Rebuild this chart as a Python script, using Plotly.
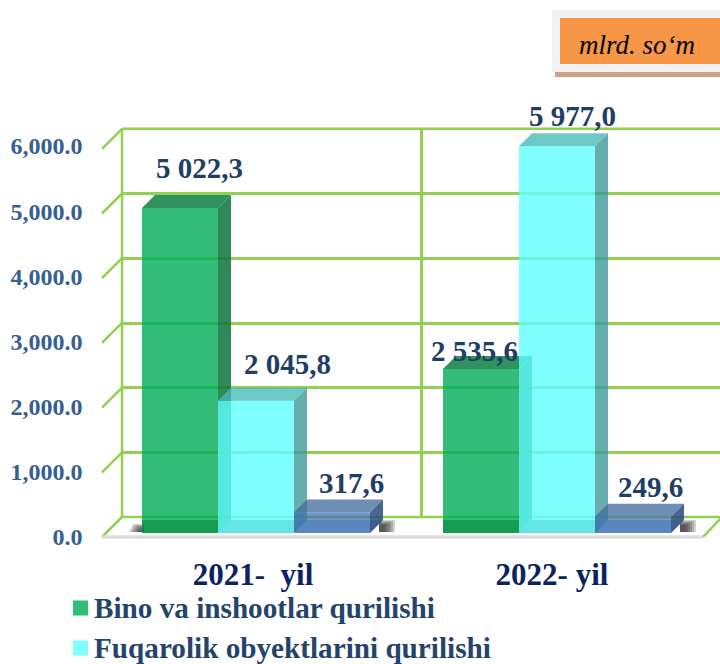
import plotly.graph_objects as go

# ---- data ----
years = ["2021-  yil", "2022- yil"]
bino = [5022.3, 2535.6]
fuqarolik = [2045.8, 5977.0]
boshqa = [317.6, 249.6]
bino_labels = ["5 022,3", "2 535,6"]
fuqarolik_labels = ["2 045,8", "5 977,0"]
boshqa_labels = ["317,6", "249,6"]
y_ticks = [0, 1000, 2000, 3000, 4000, 5000, 6000]
unit_text = "mlrd. so\u2018m"

# ---- geometry (canvas pixels) ----
W, H = 720, 664
BASE_PX = 533          # front bottom of bars
PX_PER_UNIT = 0.0647
BACK_PX = 517          # back wall zero line
FRONT_PX = 537         # front floor zero line
GROUP_LEFT = [142, 443]
BAR_W = 76
DEPTH = 13
FONT = "Liberation Serif"
GRID = "#92d050"


def v(p):
    return (BASE_PX - p) / PX_PER_UNIT


d_v = DEPTH / PX_PER_UNIT
series = [
    dict(name="Bino va inshootlar qurilishi", vals=bino, labels=bino_labels,
         front="rgba(0,172,86,0.80)", top="rgba(25,135,75,0.90)", side="rgba(20,120,65,0.88)",
         bottom="rgba(0,130,50,0.55)", legend="#30bd74"),
    dict(name="Fuqarolik obyektlarini qurilishi", vals=fuqarolik, labels=fuqarolik_labels,
         front="rgba(96,255,255,0.80)", top="rgba(70,185,185,0.78)", side="rgba(60,150,150,0.78)",
         bottom="rgba(60,190,190,0.40)", legend="#80ffff"),
    dict(name="Boshqa", vals=boshqa, labels=boshqa_labels,
         front="rgba(60,110,175,0.72)", top="rgba(70,110,160,0.78)", side="rgba(40,75,125,0.85)",
         bottom="rgba(40,100,170,0.30)", legend="#4f81bd"),
]

fig = go.Figure()

# back wall grid subplot (xy)
fig.add_trace(go.Scatter(x=[122], y=[0], mode="markers", marker=dict(opacity=0), xaxis="x", yaxis="y",
                         showlegend=False, hoverinfo="skip"))

# wall frame, left tick diagonals, right diagonal
top_t, low_t = y_ticks[-1] + v(BACK_PX), y_ticks[0] + v(BACK_PX)
frame_x = [122, 122, None, 122, 722, None, 122, 722, None]
frame_y = [low_t, top_t, None, top_t, top_t, None, low_t, low_t, None]
for t in y_ticks:
    frame_x += [122, 102, None]
    frame_y += [t + v(BACK_PX), t + v(FRONT_PX), None]
frame_x += [722, 703]
frame_y += [v(BACK_PX), v(FRONT_PX)]
fig.add_trace(go.Scatter(x=frame_x, y=frame_y, mode="lines", line=dict(color=GRID, width=2.5),
                         xaxis="x2", yaxis="y2", showlegend=False, hoverinfo="skip", zorder=0))
fig.add_trace(go.Scatter(x=[102, 703], y=[v(FRONT_PX), v(FRONT_PX)], mode="lines",
                         line=dict(color="#dcdcdc", width=3.5),
                         xaxis="x2", yaxis="y2", showlegend=False, hoverinfo="skip", zorder=1))

# soft shadows on the floor
for i in range(6):
    a = 0.20
    inset = i * 2
    lx = GROUP_LEFT[0]
    fig.add_trace(go.Scatter(
        x=[lx - 13 + inset, lx + 2, lx + 2, lx - 9 + inset],
        y=[v(BASE_PX - 1), v(BASE_PX - 1), v(BASE_PX - 9 + i), v(BASE_PX - 9 + i)],
        mode="lines", fill="toself", fillcolor=f"rgba(30,30,30,{a})", line=dict(width=0),
        xaxis="x2", yaxis="y2", showlegend=False, hoverinfo="skip", zorder=1))
    for g in GROUP_LEFT:
        rx = g + 3 * BAR_W + DEPTH
        fig.add_trace(go.Scatter(
            x=[rx - 4, rx + 12 - inset, rx + 12 - inset, rx - 4],
            y=[v(BASE_PX - 1), v(BASE_PX - 1), v(BASE_PX - 13 + i), v(BASE_PX - 13 + i)],
            mode="lines", fill="toself", fillcolor=f"rgba(30,30,30,{a})", line=dict(width=0),
            xaxis="x2", yaxis="y2", showlegend=False, hoverinfo="skip", zorder=1))

# 3-D bars
z = 2
for s_i, s in enumerate(series):
    lefts = [g + s_i * BAR_W for g in GROUP_LEFT]
    fig.add_trace(go.Bar(x=[l + BAR_W / 2 for l in lefts], y=s["vals"], width=BAR_W,
                         marker=dict(color=s["front"], line=dict(width=0)), name=s["name"],
                         xaxis="x2", yaxis="y2", showlegend=False, zorder=z))
    z += 1
    for l, val in zip(lefts, s["vals"]):
        r = l + BAR_W
        if s_i == 0:
            bottom_x = [l, l, r, r]
        else:
            bottom_x = [l, l + DEPTH, r + DEPTH, r]
        faces = [
            (bottom_x, [0, d_v, d_v, 0], s["bottom"]),
            ([l, l + DEPTH, r + DEPTH, r], [val, val + d_v, val + d_v, val], s["top"]),
            ([r, r + DEPTH, r + DEPTH, r], [val, val + d_v, d_v, 0], s["side"]),
        ]
        for fx, fy, col in faces:
            fig.add_trace(go.Scatter(x=fx + fx[:1], y=fy + fy[:1], mode="lines", fill="toself",
                                     fillcolor=col, line=dict(width=0), xaxis="x2", yaxis="y2",
                                     showlegend=False, hoverinfo="skip", zorder=z))
    z += 1

# data labels (offset from the top of each bar, in pixels)
label_dx = [[19, -6.5], [31, 15], [19, 17]]
label_dy = [[40, 18], [37, 30], [29, 30]]
annotations = []
for s_i, s in enumerate(series):
    for g_i, g in enumerate(GROUP_LEFT):
        cx = g + s_i * BAR_W + BAR_W / 2 + label_dx[s_i][g_i]
        annotations.append(dict(x=cx, y=s["vals"][g_i] + label_dy[s_i][g_i] / PX_PER_UNIT, xref="x2", yref="y2",
                                text=s["labels"][g_i], showarrow=False,
                                font=dict(family=FONT, size=29, color="#1f3f66", weight="bold")))

# legend rows
LEG_Y = [607.5, 647.5]
for s, py in zip(series[:2], LEG_Y):
    fig.add_trace(go.Scatter(x=[80.5], y=[v(py + 0.5)], mode="markers",
                             marker=dict(symbol="square", size=15, color=s["legend"], line=dict(width=0)),
                             xaxis="x2", yaxis="y2", showlegend=False, hoverinfo="skip", zorder=z))
    annotations.append(dict(x=91.5, y=v(py), xref="x2", yref="y2", text=s["name"], showarrow=False,
                            xanchor="left", font=dict(family=FONT, size=29.2, color="#24446b", weight="bold")))

# unit box
shapes = [
    dict(type="rect", xref="x2", yref="y2", x0=555, x1=722, y0=v(72), y1=v(77),
         fillcolor="#cfa283", line=dict(width=0)),
    dict(type="rect", xref="x2", yref="y2", x0=552, x1=722, y0=v(10), y1=v(72),
         fillcolor="#f2f2f2", line=dict(width=0)),
    dict(type="rect", xref="x2", yref="y2", x0=560, x1=722, y0=v(18), y1=v(64),
         fillcolor="#f79646", line=dict(width=0)),
]
annotations.append(dict(x=637, y=v(45), xref="x2", yref="y2", text=f"<i>{unit_text}</i>", showarrow=False,
                        font=dict(family=FONT, size=27, color="#000000")))

# axis-only subplot carrying the value and category labels
fig.add_trace(go.Scatter(x=[0], y=[0], mode="markers", marker=dict(opacity=0), xaxis="x3", yaxis="y3",
                         showlegend=False, hoverinfo="skip"))

fig.update_layout(
    width=W, height=H, margin=dict(l=0, r=0, t=0, b=0), paper_bgcolor="white", plot_bgcolor="rgba(0,0,0,0)",
    showlegend=False, shapes=shapes, annotations=annotations, barmode="overlay",
    xaxis=dict(domain=[122 / W, 1], range=[122, 722], tickvals=[422], showgrid=True, automargin=False,
               gridcolor=GRID, gridwidth=2.5, showticklabels=False, ticks="", zeroline=False, anchor="y"),
    yaxis=dict(domain=[(H - BACK_PX) / H, (H - 129) / H], range=[0, 6000], tickvals=y_ticks, showgrid=True,
               automargin=False, gridcolor=GRID, gridwidth=2.5, showticklabels=False, ticks="",
               zeroline=False, anchor="x"),
    xaxis2=dict(domain=[0, 1], range=[0, W], visible=False, anchor="y2", automargin=False),
    yaxis2=dict(domain=[0, 1], range=[v(H), v(0)], visible=False, anchor="x2", automargin=False),
    xaxis3=dict(domain=[0, 1], range=[0, W], tickvals=[253, 552], ticktext=years, anchor="y3",
                automargin=False, showgrid=False, zeroline=False, ticks="", ticklabelstandoff=16,
                tickfont=dict(family=FONT, size=31, color="#0b2360", weight="bold")),
    yaxis3=dict(domain=[(H - FRONT_PX) / H, (H - 146) / H], range=[0, 6000],
                tickvals=y_ticks, tickformat=",.1f", anchor="free", position=82.5 / W, showgrid=False,
                automargin=False, zeroline=False, ticks="", showline=False,
                tickfont=dict(family=FONT, size=24, color="#35608f", weight="bold")),
)

fig.write_html("out.html", config={"displayModeBar": False},
               post_script="document.body.style.margin='0';document.body.style.overflow='hidden';")
